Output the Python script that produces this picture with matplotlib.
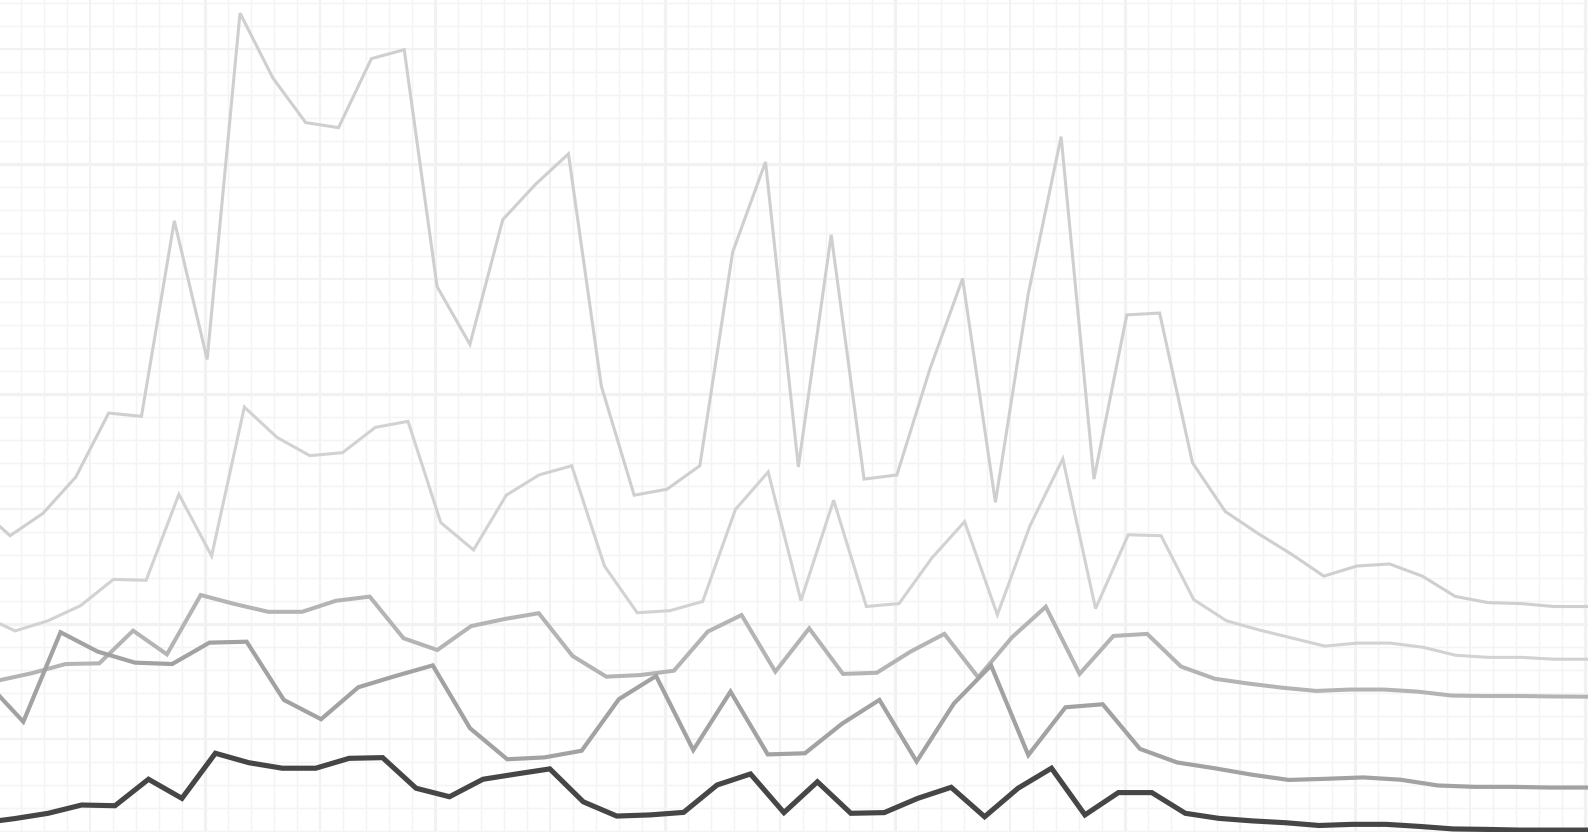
import matplotlib
matplotlib.use("Agg")
import matplotlib.pyplot as plt
import numpy as np
from matplotlib.ticker import MultipleLocator

# series values, lightest (top) to darkest (bottom)
series_a = [151.2, 138.4, 148.1, 163.9, 191.7, 190.3, 275.3, 215.0, 365.6, 337.4,
            318.0, 315.8, 345.8, 349.7, 246.7, 221.6, 275.8, 291.2, 304.4, 203.5,
            156.0, 158.6, 168.8, 261.7, 300.9, 168.3, 269.2, 163.0, 164.8, 210.6,
            250.2, 152.9, 243.6, 311.9, 163.0, 234.4, 235.2, 170.1, 148.9, 139.3,
            130.5, 120.8, 125.2, 126.1, 120.8, 112.0, 109.3, 108.9, 107.6, 107.6]
series_b = [103.6, 97.0, 101.4, 108.0, 119.4, 119.0, 156.4, 129.6, 194.3, 181.1,
            173.2, 174.5, 185.5, 188.1, 144.1, 132.2, 156.0, 164.8, 168.8, 125.2,
            104.9, 105.8, 109.8, 149.8, 166.1, 110.2, 153.8, 107.6, 108.9, 128.7,
            144.5, 104.0, 142.8, 171.8, 106.7, 138.8, 138.4, 110.6, 101.4, 97.4,
            93.9, 90.4, 91.7, 91.7, 89.9, 86.4, 85.5, 85.5, 84.7, 84.7]
series_c = [75.4, 78.6, 82.6, 82.9, 97.1, 86.8, 112.6, 108.7, 105.3, 105.3,
            110.1, 111.9, 93.8, 88.7, 99.1, 102.2, 104.7, 86.1, 77.1, 77.8,
            79.7, 96.7, 103.9, 79.3, 98.1, 78.3, 78.8, 88.0, 95.7, 76.8,
            94.2, 107.5, 78.3, 94.8, 95.7, 81.5, 76.2, 74.1, 72.3, 70.9,
            71.5, 71.5, 70.6, 68.9, 68.7, 68.7, 68.5, 68.4]
series_d = [74.9, 57.5, 96.4, 88.0, 83.2, 82.6, 91.9, 92.3, 67.0, 58.6,
            72.5, 77.4, 82.0, 54.7, 41.2, 42.0, 44.9, 67.3, 77.4, 45.2,
            70.6, 43.3, 43.8, 56.7, 67.0, 40.2, 65.4, 82.0, 43.0, 63.8,
            65.1, 45.7, 39.8, 37.3, 34.5, 32.2, 32.7, 33.3, 32.3, 29.8,
            29.2, 29.2, 28.9, 28.9]
series_e = [13.5, 15.4, 17.7, 21.3, 21.0, 32.5, 24.2, 43.8, 39.7, 37.3,
            37.3, 41.6, 41.9, 28.6, 24.9, 32.5, 34.8, 37.0, 22.7, 16.5,
            17.0, 18.1, 30.0, 34.8, 18.0, 31.4, 17.7, 18.0, 24.2, 29.0,
            16.2, 28.6, 37.3, 17.0, 26.7, 26.7, 17.7, 15.5, 14.4, 13.6,
            12.4, 12.9, 12.9, 12.0, 10.9, 10.7, 10.4, 10.4, 10.4]

# first x of each series, all series end at the same x
x_starts = [0.98, 3.24, 9.96, 4.82, 2.72]
x_end = 700.7

colors = ["#cfcfcf", "#d2d2d2", "#b4b4b4", "#a2a2a2", "#464646"]
widths = [2.2, 2.2, 2.9, 3.0, 3.7]

fig = plt.figure(figsize=(15.88, 8.32), dpi=100)
ax = fig.add_axes([0, 0, 1, 1])
ax.set_xlim(10.87, 701.3)
ax.set_ylim(9.57, 371.3)

# grid: fine every 10, medium every 50, heavy every 100
ax.xaxis.set_major_locator(MultipleLocator(50))
ax.yaxis.set_major_locator(MultipleLocator(50))
ax.xaxis.set_minor_locator(MultipleLocator(10))
ax.yaxis.set_minor_locator(MultipleLocator(10))
ax.grid(which="minor", color="#f4f4f4", linewidth=1.0)
ax.grid(which="major", color="#f2f2f2", linewidth=1.5)
for v in np.arange(0, 701, 100):
    ax.axvline(v, color="#f0f0f0", linewidth=2.2, zorder=0.5)
for v in np.arange(0, 372, 100):
    ax.axhline(v, color="#f0f0f0", linewidth=2.2, zorder=0.5)
ax.set_axisbelow(True)

ax.tick_params(which="both", length=0, labelbottom=False, labelleft=False)
for s in ax.spines.values():
    s.set_visible(False)

all_series = [series_a, series_b, series_c, series_d, series_e]
for vals, x0, c, w in zip(all_series, x_starts, colors, widths):
    xs = np.linspace(x0, x_end, len(vals))
    ax.plot(xs, vals, color=c, linewidth=w, solid_joinstyle="miter", zorder=2)

fig.savefig("out.png", dpi=100)
